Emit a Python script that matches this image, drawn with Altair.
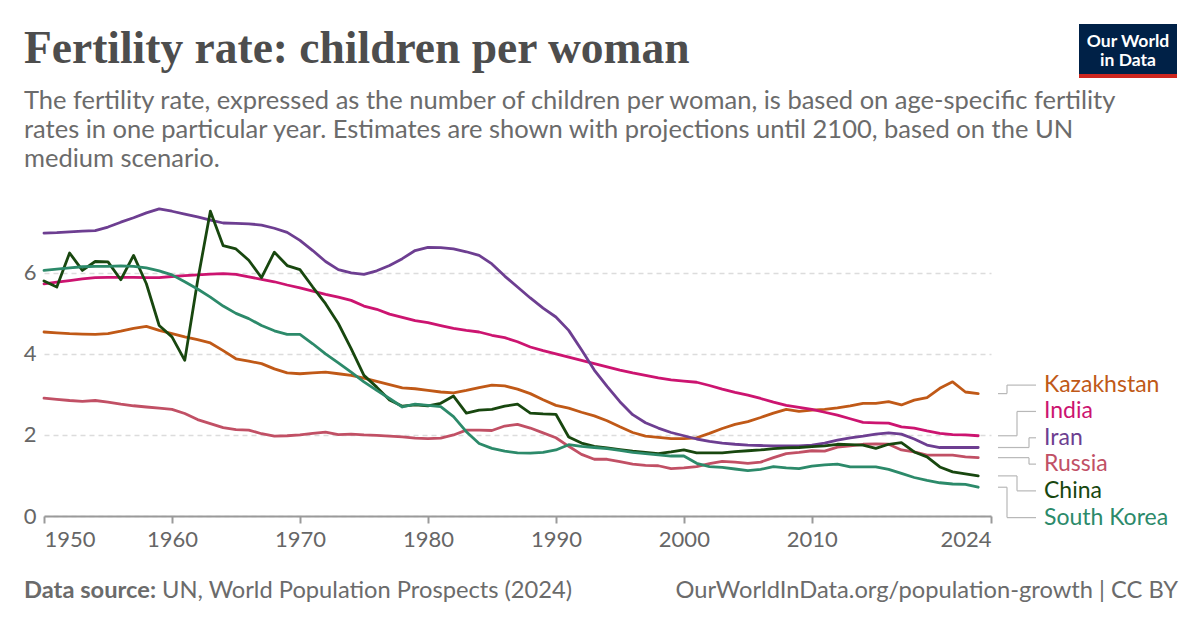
import altair as alt
import pandas as pd

years = list(range(1950, 2024))

countries = ["Kazakhstan", "India", "Iran", "Russia", "China", "South Korea"]
colors = ["#C05917", "#CC1470", "#6D3E91", "#C15065", "#18470F", "#2C8A6A"]

iran = [6.98, 6.99, 7.01, 7.03, 7.04, 7.13, 7.25, 7.36, 7.48, 7.58,
        7.52, 7.45, 7.38, 7.30, 7.23, 7.22, 7.21, 7.18, 7.10, 7.00,
        6.80, 6.55, 6.28, 6.08, 6.00, 5.96, 6.05, 6.18, 6.35, 6.55,
        6.63, 6.62, 6.59, 6.52, 6.43, 6.22, 5.92, 5.65, 5.38, 5.13,
        4.91, 4.58, 4.10, 3.60, 3.20, 2.82, 2.50, 2.30, 2.17, 2.06,
        1.98, 1.90, 1.84, 1.80, 1.77, 1.75, 1.74, 1.73, 1.73, 1.73,
        1.75, 1.80, 1.87, 1.93, 1.97, 2.02, 2.05, 2.02, 1.90, 1.75,
        1.69, 1.69, 1.69, 1.69]

india = [5.73, 5.77, 5.81, 5.85, 5.88, 5.89, 5.89, 5.89, 5.88, 5.88,
         5.91, 5.93, 5.95, 5.97, 5.98, 5.96, 5.90, 5.84, 5.78, 5.70,
         5.63, 5.55, 5.47, 5.40, 5.32, 5.18, 5.10, 4.98, 4.90, 4.82,
         4.77, 4.70, 4.63, 4.58, 4.54, 4.46, 4.40, 4.30, 4.17, 4.08,
         4.00, 3.92, 3.84, 3.76, 3.68, 3.60, 3.53, 3.47, 3.41, 3.36,
         3.33, 3.30, 3.22, 3.13, 3.05, 2.98, 2.90, 2.81, 2.73, 2.68,
         2.63, 2.56, 2.49, 2.40, 2.31, 2.30, 2.29, 2.20, 2.17, 2.10,
         2.04, 2.01, 2.00, 1.98]

kazakhstan = [4.54, 4.52, 4.50, 4.49, 4.48, 4.50, 4.56, 4.63, 4.68, 4.58,
              4.50, 4.42, 4.35, 4.27, 4.08, 3.88, 3.82, 3.76, 3.63, 3.53,
              3.51, 3.53, 3.55, 3.51, 3.47, 3.40, 3.32, 3.24, 3.16, 3.14,
              3.10, 3.06, 3.04, 3.10, 3.17, 3.23, 3.21, 3.13, 3.02, 2.87,
              2.73, 2.66, 2.56, 2.47, 2.35, 2.20, 2.06, 1.97, 1.94, 1.91,
              1.91, 1.93, 2.04, 2.16, 2.26, 2.33, 2.43, 2.54, 2.63, 2.58,
              2.61, 2.63, 2.67, 2.72, 2.78, 2.78, 2.82, 2.74, 2.86, 2.92,
              3.15, 3.31, 3.06, 3.02]

russia = [2.91, 2.88, 2.85, 2.83, 2.85, 2.81, 2.76, 2.72, 2.69, 2.66,
          2.63, 2.53, 2.38, 2.28, 2.18, 2.13, 2.12, 2.03, 1.97, 1.98,
          2.00, 2.04, 2.07, 2.01, 2.02, 2.00, 1.99, 1.97, 1.95, 1.92,
          1.91, 1.92, 2.00, 2.12, 2.12, 2.11, 2.22, 2.26, 2.17, 2.05,
          1.93, 1.72, 1.52, 1.40, 1.40, 1.34, 1.28, 1.25, 1.24, 1.17,
          1.19, 1.22, 1.29, 1.35, 1.33, 1.30, 1.33, 1.44, 1.54, 1.57,
          1.61, 1.60, 1.70, 1.73, 1.77, 1.78, 1.77, 1.63, 1.58, 1.50,
          1.50, 1.50, 1.46, 1.44]

china = [5.80, 5.65, 6.49, 6.06, 6.28, 6.27, 5.83, 6.43, 5.73, 4.70,
         4.42, 3.84, 5.80, 7.52, 6.67, 6.59, 6.31, 5.88, 6.51, 6.18,
         6.08, 5.65, 5.24, 4.75, 4.13, 3.47, 3.18, 2.86, 2.71, 2.74,
         2.72, 2.78, 2.96, 2.54, 2.61, 2.63, 2.71, 2.76, 2.54, 2.52,
         2.51, 1.95, 1.80, 1.72, 1.68, 1.64, 1.60, 1.57, 1.54, 1.58,
         1.63, 1.56, 1.56, 1.56, 1.59, 1.61, 1.63, 1.66, 1.68, 1.69,
         1.71, 1.73, 1.77, 1.76, 1.75, 1.67, 1.77, 1.81, 1.58, 1.46,
         1.21, 1.09, 1.04, 0.99]

south_korea = [6.06, 6.09, 6.12, 6.15, 6.16, 6.16, 6.17, 6.16, 6.12, 6.05,
               5.95, 5.78, 5.60, 5.40, 5.18, 5.00, 4.87, 4.70, 4.57, 4.48,
               4.48, 4.25, 4.00, 3.78, 3.55, 3.31, 3.10, 2.90, 2.69, 2.76,
               2.73, 2.70, 2.45, 2.08, 1.79, 1.67, 1.60, 1.56, 1.55, 1.57,
               1.63, 1.76, 1.72, 1.69, 1.66, 1.62, 1.57, 1.54, 1.51, 1.48,
               1.48, 1.30, 1.22, 1.20, 1.16, 1.12, 1.15, 1.22, 1.19, 1.17,
               1.23, 1.26, 1.28, 1.21, 1.21, 1.21, 1.15, 1.05, 0.95, 0.88,
               0.82, 0.79, 0.78, 0.71]

series = {"Kazakhstan": kazakhstan, "India": india, "Iran": iran,
          "Russia": russia, "China": china, "South Korea": south_korea}

x_ticks = [1950, 1960, 1970, 1980, 1990, 2000, 2010, 2024]
y_ticks = [0, 2, 4, 6]

# label layout (data units for label centre, pixel x for connector elbows)
label_pos = [3.23, 2.58, 1.93, 1.28, 0.62, -0.04]
elbow_px = [963, 973, 985, 985, 973, 963]

rows = []
for c in countries:
    for yr, v in zip(years, series[c]):
        rows.append({"year": yr, "value": v, "country": c})
df = pd.DataFrame(rows)

lab = pd.DataFrame({
    "country": countries,
    "end": [series[c][-1] for c in countries],
    "lab": label_pos,
})

W, H = 947, 308
PL, PT = 44, 208

color = alt.Color("country:N", scale=alt.Scale(domain=countries, range=colors), legend=None)
xs = alt.Scale(domain=[1950, 2024], nice=False, zero=False)
ys = alt.Scale(domain=[0, 7.6], nice=False)

lines = alt.Chart(df).mark_line(strokeWidth=2.8, strokeJoin="round", strokeCap="round").encode(
    x=alt.X("year:Q", scale=xs,
            axis=alt.Axis(values=x_ticks, format="d", title=None, grid=False,
                          labelFlush=True, domainColor="#9a9a9a", domainWidth=2,
                          tickColor="#9a9a9a", tickWidth=2, tickSize=7,
                          labelPadding=6, labelFont="Lato", labelFontSize=22,
                          labelColor="#666666")),
    y=alt.Y("value:Q", scale=ys,
            axis=alt.Axis(values=y_ticks, title=None, grid=True, domain=False,
                          ticks=False, labelPadding=8, labelFont="Lato",
                          labelFontSize=22, labelColor="#666666",
                          gridColor="#dcdcdc", gridDash=[5, 4], gridWidth=1.5)),
    color=color,
)

conn_color = "#b8b8b8"
layers = [lines]
for i, c in enumerate(countries):
    sub = lab[lab.country == c]
    e = elbow_px[i]
    layers.append(alt.Chart(sub).mark_rule(color=conn_color, strokeWidth=1.2).encode(
        x=alt.value(954), x2=alt.value(e), y=alt.Y("end:Q", scale=ys)))
    layers.append(alt.Chart(sub).mark_rule(color=conn_color, strokeWidth=1.2).encode(
        x=alt.value(e), y=alt.Y("end:Q", scale=ys), y2="lab:Q"))
    layers.append(alt.Chart(sub).mark_rule(color=conn_color, strokeWidth=1.2).encode(
        x=alt.value(e), x2=alt.value(992), y=alt.Y("lab:Q", scale=ys)))

labels = alt.Chart(lab).mark_text(align="left", baseline="middle", font="Lato", fontSize=23).encode(
    x=alt.value(1000), y=alt.Y("lab:Q", scale=ys), text="country:N", color=color)
layers.append(labels)


def txt(s, x, y, **kw):
    return alt.Chart(pd.DataFrame({"t": [s]})).mark_text(baseline="alphabetic", **kw).encode(
        x=alt.value(x), y=alt.value(y), text="t:N")


layers.append(txt("Fertility rate: children per woman", -20, -145, align="left",
                  font="Liberation Serif", fontSize=45.5, fontWeight="bold", color="#4d4d4d"))
sub_lines = [
    "The fertility rate, expressed as the number of children per woman, is based on age-specific fertility",
    "rates in one particular year. Estimates are shown with projections until 2100, based on the UN",
    "medium scenario.",
]
for i, s in enumerate(sub_lines):
    layers.append(txt(s, -20, -99 + 29 * i, align="left", font="Lato", fontSize=25.5, color="#6b6b6b"))

layers.append(txt("Data source:", -20, 390, align="left", font="Lato", fontSize=23.7,
                  fontWeight="bold", color="#6b6b6b"))
layers.append(txt("UN, World Population Prospects (2024)", 118, 390, align="left", font="Lato",
                  fontSize=23.7, color="#6b6b6b"))
layers.append(txt("OurWorldInData.org/population-growth | CC BY", 1134, 390, align="right",
                  font="Lato", fontSize=23.7, color="#6b6b6b"))

# logo
logo_df = pd.DataFrame({"a": [0]})
layers.append(alt.Chart(logo_df).mark_rect(color="#002147").encode(
    x=alt.value(1035), x2=alt.value(1133), y=alt.value(-184), y2=alt.value(-134)))
layers.append(alt.Chart(logo_df).mark_rect(color="#ce261e").encode(
    x=alt.value(1035), x2=alt.value(1133), y=alt.value(-134), y2=alt.value(-130)))
layers.append(txt("Our World", 1084, -161, align="center", font="Lato", fontSize=17.5,
                  fontWeight="bold", color="white"))
layers.append(txt("in Data", 1084, -142, align="center", font="Lato", fontSize=17.5,
                  fontWeight="bold", color="white"))

chart = alt.layer(*layers).properties(
    width=W, height=H,
    autosize="none",
    padding={"left": PL, "top": PT, "right": 1200 - PL - W, "bottom": 628 - PT - H},
    background="white",
).configure_view(stroke=None)

chart.save("out.html", embed_options={"renderer": "svg", "actions": False})
